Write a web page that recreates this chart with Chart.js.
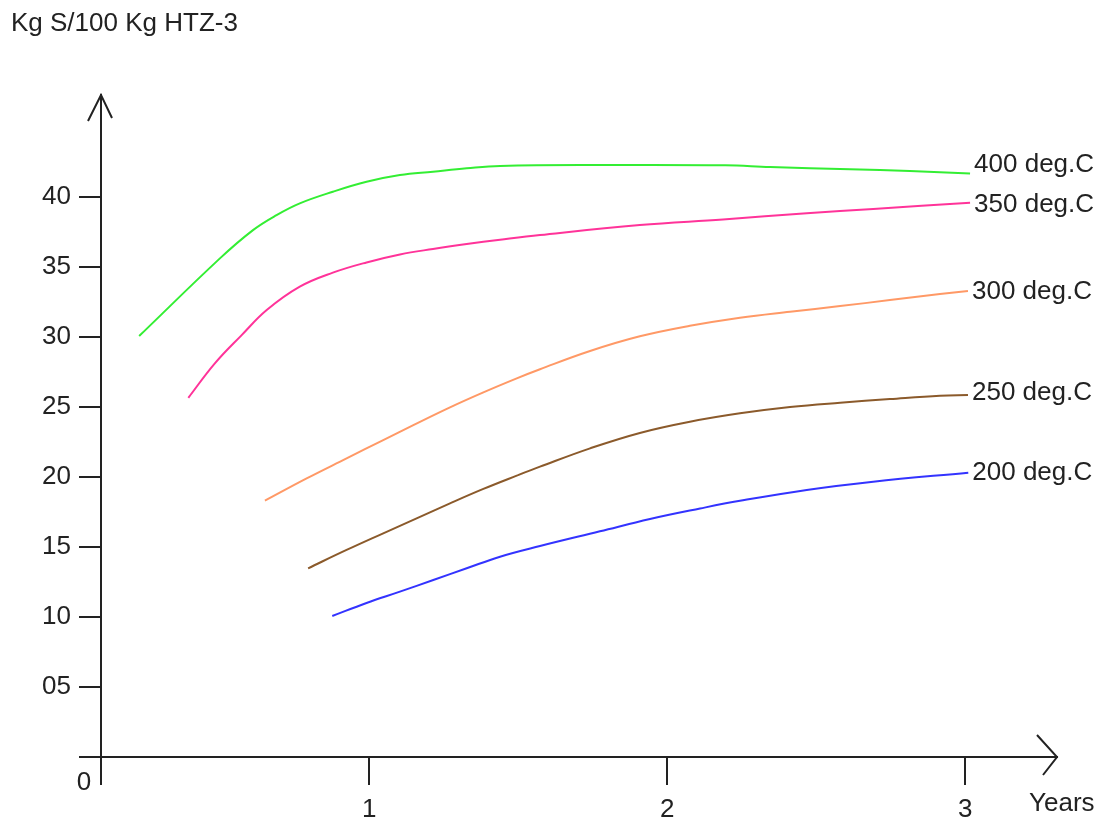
<!DOCTYPE html>
<html>
<head>
<meta charset="utf-8">
<script src="https://cdn.jsdelivr.net/npm/chart.js@4"></script>
<style>
  body { margin: 0; background: #fff; }
  #wrap { width: 1099px; height: 821px; }
</style>
</head>
<body>
<div id="wrap"><canvas id="chart"></canvas></div>
<script>
// values (x in years, y in Kg S / 100 Kg)
const seriesNames = ["400 deg.C", "350 deg.C", "300 deg.C", "250 deg.C", "200 deg.C"];

const years400 = [0.228, 0.499, 0.610, 0.689, 0.767, 0.878, 0.991, 1.103, 1.214, 1.327, 1.439, 1.774, 2.194, 2.345, 2.613, 2.814, 3.016];
const kg400    = [30.07, 35.62, 37.64, 38.71, 39.55, 40.38, 41.09, 41.57, 41.81, 42.05, 42.22, 42.29, 42.27, 42.14, 41.98, 41.86, 41.69];

const years350 = [0.393, 0.482, 0.572, 0.656, 0.767, 0.878, 0.991, 1.103, 1.214, 1.327, 1.439, 1.573, 1.908, 2.187, 2.468, 2.691, 3.016];
const kg350    = [25.66, 28.12, 30.14, 31.93, 33.60, 34.60, 35.33, 35.90, 36.29, 36.64, 36.95, 37.29, 38.00, 38.40, 38.85, 39.15, 39.60];

const years300 = [0.650, 0.790, 0.924, 1.047, 1.148, 1.271, 1.383, 1.495, 1.573, 1.741, 1.908, 2.076, 2.244, 2.412, 2.580, 2.747, 2.915, 3.009];
const kg300    = [18.31, 19.90, 21.33, 22.64, 23.71, 24.98, 26.05, 27.05, 27.70, 29.00, 30.05, 30.80, 31.38, 31.81, 32.21, 32.64, 33.07, 33.29];

const years250 = [0.795, 0.924, 1.047, 1.159, 1.271, 1.383, 1.495, 1.573, 1.741, 1.908, 2.076, 2.244, 2.412, 2.580, 2.747, 2.915, 3.009];
const kg250    = [13.48, 14.79, 15.98, 17.05, 18.12, 19.15, 20.10, 20.74, 22.05, 23.15, 23.95, 24.55, 25.00, 25.31, 25.57, 25.81, 25.86];

const years200 = [0.876, 0.991, 1.103, 1.215, 1.327, 1.439, 1.573, 1.774, 1.942, 2.110, 2.244, 2.468, 2.691, 3.010];
const kg200    = [10.07, 11.00, 11.81, 12.64, 13.48, 14.31, 15.07, 16.12, 17.00, 17.75, 18.30, 19.08, 19.67, 20.31];

const xTicks = [1, 2, 3];
const yTicks = [0, 5, 10, 15, 20, 25, 30, 35, 40];
const xMin = 0.1, xMax = 3.3077;
const yMin = 0, yMax = 47.29;

const FONT = "'Liberation Sans', Arial, sans-serif";
const INK = "#222";

function pts(xs, ys) {
  return xs.map((x, i) => ({ x: x, y: ys[i] }));
}

function line(label, xs, ys, color, dy) {
  return {
    label: label,
    data: pts(xs, ys),
    borderColor: color,
    borderWidth: 2,
    pointRadius: 0,
    fill: false,
    tension: 0.4,
    labelDy: dy
  };
}

const extras = {
  id: "extras",
  afterDraw(chart) {
    const ctx = chart.ctx;
    const xs = chart.scales.x, ys = chart.scales.y;
    const a = chart.chartArea;
    ctx.save();
    ctx.fillStyle = INK;
    ctx.strokeStyle = INK;
    ctx.font = "26px " + FONT;
    ctx.textBaseline = "middle";

    // end labels
    chart.data.datasets.forEach((ds) => {
      const last = ds.data[ds.data.length - 1];
      const px = xs.getPixelForValue(last.x);
      const py = ys.getPixelForValue(last.y);
      ctx.textAlign = "left";
      ctx.fillText(ds.label, px + 4, py + ds.labelDy);
    });

    // title, origin, axis name
    ctx.textAlign = "left";
    ctx.fillText("Kg S/100 Kg HTZ-3", 11, 24);
    ctx.textAlign = "center";
    ctx.fillText("0", xs.getPixelForValue(xMin) - 17, ys.getPixelForValue(0) + 26);
    ctx.textAlign = "left";
    ctx.fillText("Years", a.right - 28, a.bottom + 47);

    // arrow heads
    ctx.lineWidth = 2;
    ctx.beginPath();
    ctx.moveTo(a.left - 13, a.top + 26);
    ctx.lineTo(a.left, a.top);
    ctx.lineTo(a.left + 11, a.top + 23);
    ctx.moveTo(a.right - 20, a.bottom - 22);
    ctx.lineTo(a.right, a.bottom);
    ctx.lineTo(a.right - 14, a.bottom + 18);
    ctx.stroke();
    ctx.restore();
  }
};

new Chart(document.getElementById("chart"), {
  type: "line",
  data: {
    datasets: [
      line(seriesNames[0], years400, kg400, "#33ee33", -9),
      line(seriesNames[1], years350, kg350, "#ff3399", 2),
      line(seriesNames[2], years300, kg300, "#ff9966", 1),
      line(seriesNames[3], years250, kg250, "#8b5a2b", -2),
      line(seriesNames[4], years200, kg200, "#3333ff", 0)
    ]
  },
  options: {
    responsive: true,
    maintainAspectRatio: false,
    animation: false,
    layout: { padding: { top: 95, right: 42, left: 0, bottom: 0 } },
    plugins: {
      legend: { display: false },
      tooltip: { enabled: false }
    },
    scales: {
      x: {
        type: "linear",
        min: xMin,
        max: xMax,
        afterFit: (s) => { s.height = 64; },
        afterBuildTicks: (s) => { s.ticks = [xMin].concat(xTicks).map((v) => ({ value: v })); },
        border: { display: true, color: INK, width: 2 },
        grid: { drawOnChartArea: false, tickLength: 28, color: INK, lineWidth: 2 },
        ticks: {
          padding: 9,
          color: INK,
          font: { size: 26, family: FONT },
          callback: (v) => (v === xMin ? "" : String(v))
        }
      },
      y: {
        min: yMin,
        max: yMax,
        afterFit: (s) => { s.width = 101; },
        afterBuildTicks: (s) => { s.ticks = yTicks.map((v) => ({ value: v })); },
        border: { display: true, color: INK, width: 2 },
        grid: { drawOnChartArea: false, tickLength: 22, color: INK, lineWidth: 2 },
        ticks: {
          padding: 8,
          color: INK,
          font: { size: 26, family: FONT },
          callback: (v) => (v === 0 ? "" : v === 5 ? "05" : String(v))
        }
      }
    }
  },
  plugins: [extras]
});
</script>
</body>
</html>
